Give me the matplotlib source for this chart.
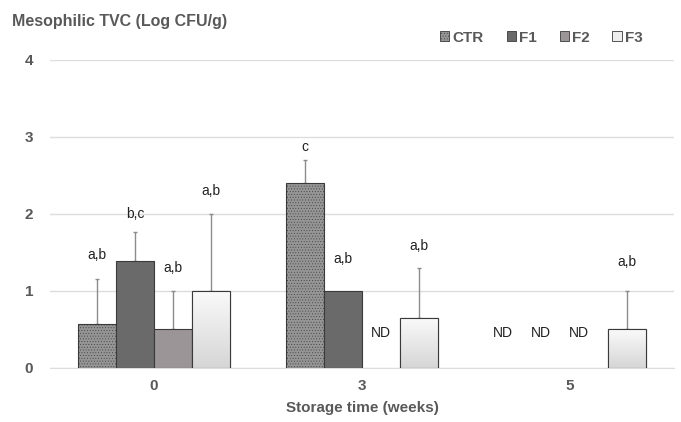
import numpy as np
import matplotlib.pyplot as plt
from matplotlib.patches import Patch
from matplotlib.colors import LinearSegmentedColormap

plt.rcParams['font.family'] = ['Liberation Sans', 'DejaVu Sans']
plt.rcParams['hatch.linewidth'] = 0.3

weeks = ['0', '3', '5']
series = ['CTR', 'F1', 'F2', 'F3']
# mean log CFU/g, None = not detected
ctr = [0.57, 2.40, None]
f1 = [1.39, 1.00, None]
f2 = [0.50, None, None]
f3 = [1.00, 0.65, 0.50]
ctr_err = [0.58, 0.30, 0]
f1_err = [0.38, 0.0, 0]
f2_err = [0.50, 0, 0]
f3_err = [1.00, 0.65, 0.50]
# significance letters and where they sit
ctr_lbl = ['a,b', 'c', '']
f1_lbl = ['b,c', 'a,b', '']
f2_lbl = ['a,b', '', '']
f3_lbl = ['a,b', 'a,b', 'a,b']
ctr_lbl_y = [1.47, 2.87, 0]
f1_lbl_y = [2.00, 1.41, 0]
f2_lbl_y = [1.30, 0, 0]
f3_lbl_y = [2.30, 1.58, 1.38]

values = [ctr, f1, f2, f3]
errs = [ctr_err, f1_err, f2_err, f3_err]
labels = [ctr_lbl, f1_lbl, f2_lbl, f3_lbl]
label_y = [ctr_lbl_y, f1_lbl_y, f2_lbl_y, f3_lbl_y]
colors = ['#959595', '#6a6a6a', '#9b9597', '#eeeeee']
hatches = ['......', None, None, None]

grey = '#595959'
fig = plt.figure(figsize=(6.81, 4.22), dpi=100)
ax = fig.add_axes([0.0734, 0.128, 0.9163, 0.730])

x = np.arange(len(weeks))
w = 0.183
offs = (np.arange(4) - 1.5) * w
cmap = LinearSegmentedColormap.from_list('g', ['#fafafa', '#d6d6d6'])

for s in range(4):
    for g in range(3):
        xc = x[g] + offs[s]
        v = values[s][g]
        if v is None:
            dx = -0.05 if g == 2 else 0.0
            ax.text(xc + dx, 0.46, 'ND', ha='center', va='center',
                    fontsize=10, color='#222222')
            continue
        bar = ax.bar(xc, v, w, color=colors[s], edgecolor='#3a3a3a',
                     linewidth=0.8, hatch=hatches[s], zorder=3)[0]
        if s == 3:
            grad = np.linspace(0, 1, 100).reshape(-1, 1)
            im = ax.imshow(grad, cmap=cmap, aspect='auto',
                           extent=(xc - w / 2, xc + w / 2, 0, v),
                           origin='upper', zorder=3.5)
            im.set_clip_path(bar)
            ax.bar(xc, v, w, color='none', edgecolor='#3a3a3a', linewidth=0.8, zorder=4)
        if errs[s][g] > 0:
            ax.errorbar(xc, v, yerr=[[0], [errs[s][g]]], fmt='none',
                        ecolor='#8c8c8c', elinewidth=1, capsize=1.5, zorder=2)
        if labels[s][g]:
            ax.text(xc, label_y[s][g], labels[s][g], ha='center', va='center',
                    fontsize=10, color='#222222')

ax.set_xlim(-0.5, 2.5)
ax.set_ylim(0, 4)
ax.set_yticks([0, 1, 2, 3, 4])
ax.set_xticks(x)
ax.set_xticklabels(weeks)
ax.yaxis.grid(True, color='#dddddd', linewidth=1, zorder=0)
ax.set_axisbelow(True)
for sp in ['top', 'right', 'left']:
    ax.spines[sp].set_visible(False)
ax.spines['bottom'].set_color('#dddddd')
ax.tick_params(length=0, labelsize=11, labelcolor=grey, pad=8)
ax.tick_params(axis='y', pad=12)
for t in ax.get_xticklabels() + ax.get_yticklabels():
    t.set_fontweight('bold')
ax.set_xlabel('Storage time (weeks)', fontsize=11, fontweight='bold',
              color=grey, labelpad=6)

fig.text(0.018, 0.948, 'Mesophilic TVC (Log CFU/g)', fontsize=11.5,
         fontweight='bold', color=grey, va='center')

handles = [Patch(facecolor=colors[i], edgecolor='#3a3a3a', hatch=hatches[i],
                 linewidth=0.6) for i in range(4)]
leg = fig.legend(handles, series, loc='center', bbox_to_anchor=(0.795, 0.911),
                 ncol=4, frameon=False, handlelength=0.6, handleheight=0.6,
                 handletextpad=0.2, columnspacing=1.5,
                 prop={'weight': 'bold', 'size': 11})
for t in leg.get_texts():
    t.set_color(grey)

fig.savefig('out.png', dpi=100)
